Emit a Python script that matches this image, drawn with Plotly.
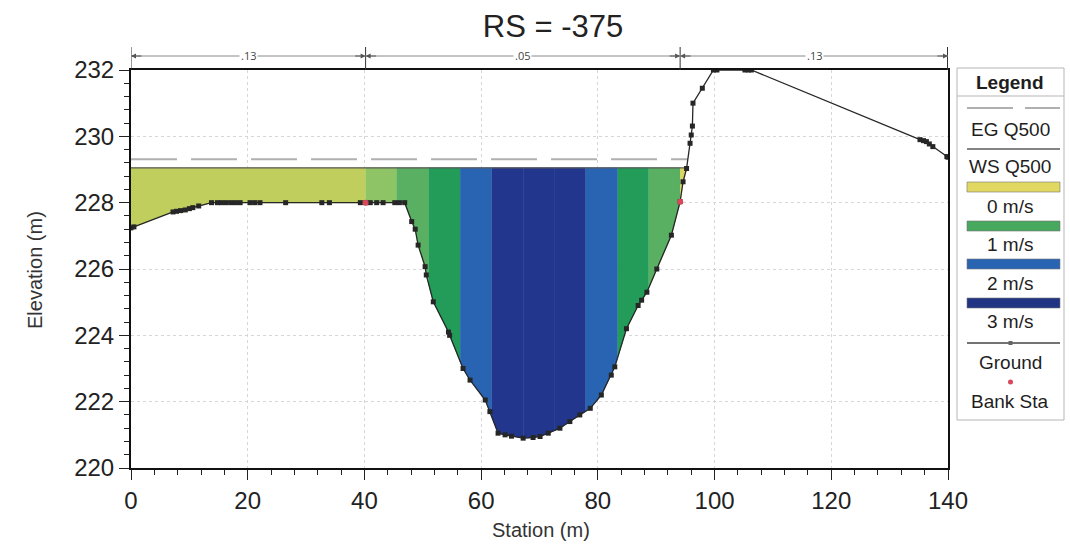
import numpy as np
import plotly.graph_objects as go

# ---- Cross-section data (RS = -375) ----
station = [0, 0.5, 7.2, 7.8, 8.5, 9.3, 10.0, 10.6, 11.6, 13.8, 14.8, 15.5, 16.3, 17.1,
           17.9, 18.7, 20.4, 21.2, 22.1, 26.5, 32.7, 34.0, 39.3, 40.2, 41.0, 42.1, 43.2,
           45.2, 46.0, 46.9, 48.1, 48.7, 49.2, 50.4, 50.6, 51.8, 54.4, 54.6, 56.9, 58.1,
           60.7, 61.5, 62.9, 64.1, 65.2, 67.2, 68.9, 70.1, 71.5, 73.5, 75.2, 76.9, 78.7,
           80.6, 82.3, 82.9, 84.9, 86.9, 87.5, 88.4, 90.1, 92.6, 94.1, 94.6, 95.2, 95.8,
           96.0, 96.2, 96.3, 97.9, 99.8, 100.4, 105.2, 105.8, 106.3, 135.2, 135.8, 136.3,
           136.8, 137.4, 139.8, 140.0]
elevation = [227.24, 227.27, 227.72, 227.74, 227.76, 227.78, 227.82, 227.85, 227.90, 228.0,
             228.0, 228.0, 228.0, 228.0, 228.0, 228.0, 228.0, 228.0, 228.0, 228.0, 228.0,
             228.0, 228.0, 228.0, 228.0, 228.0, 228.0, 228.0, 228.0, 228.0, 227.43, 227.20,
             226.72, 226.07, 225.82, 225.01, 224.10, 224.00, 223.00, 222.65, 222.05, 221.70,
             221.05, 221.00, 220.96, 220.90, 220.92, 220.95, 221.05, 221.20, 221.40, 221.60,
             221.80, 222.20, 222.80, 223.05, 224.20, 224.90, 225.06, 225.30, 226.00, 227.02,
             228.03, 228.63, 229.03, 229.79, 230.04, 230.31, 231.00, 231.45, 232.0, 232.0,
             232.0, 232.0, 232.0, 229.90, 229.87, 229.84, 229.77, 229.69, 229.39, 229.37]

bank_station = [40.2, 94.1]
bank_elevation = [228.0, 228.03]

ws_q500 = 229.05   # water surface
eg_q500 = 229.31   # energy grade

# Manning's n regions along the top
n_breaks = [0, 40.2, 94.1, 140]
n_labels = [".13", ".05", ".13"]

# Velocity distribution: slice edges (m) and mean velocity in each slice (m/s)
vel_edges = [0, 40.2, 45.5, 51.0, 56.4, 61.8, 67.2, 72.5, 77.9, 83.4, 88.7, 94.1]
velocity = [0.3, 0.6, 0.9, 1.2, 2.0, 2.8, 2.8, 2.8, 2.0, 1.2, 0.9, 0.05]

legend_speeds = [0, 1, 2, 3]

x_range = [0, 140]
y_range = [220, 232]

# velocity colour ramp
ramp_v = [0.0, 0.3, 0.6, 0.9, 1.2, 2.0, 2.8, 3.0]
ramp_rgb = [(224, 216, 96), (192, 206, 94), (142, 196, 102), (90, 176, 98),
            (34, 156, 88), (40, 100, 178), (33, 54, 140), (33, 52, 132)]


def vel_color(v):
    r, g, b = (np.interp(v, ramp_v, [c[i] for c in ramp_rgb]) for i in range(3))
    return f"rgb({int(r)},{int(g)},{int(b)})"


sta = np.array(station)
elev = np.array(elevation)


def right_crossing(level):
    # last point where the ground rises through a given level
    for i in range(len(sta) - 1, 0, -1):
        if elev[i - 1] <= level < elev[i] or elev[i - 1] < level <= elev[i]:
            return float(np.interp(level, [elev[i - 1], elev[i]], [sta[i - 1], sta[i]]))
    return float(sta[-1])


ws_end = right_crossing(ws_q500)
eg_end = right_crossing(eg_q500)

fig = go.Figure()

# water area coloured by velocity
edges = vel_edges + [ws_end]
for a, b, v in zip(edges[:-1], edges[1:], velocity):
    xs = [a] + [s for s in station if a < s < b] + [b]
    zs = np.minimum(np.interp(xs, sta, elev), ws_q500)
    col = vel_color(v)
    fig.add_trace(go.Scatter(
        x=xs + [b, a], y=list(zs) + [ws_q500, ws_q500],
        mode="lines", fill="toself", fillcolor=col,
        line=dict(width=0.6, color=col), hoverinfo="skip", showlegend=False))

# energy grade line
fig.add_trace(go.Scatter(x=[0, eg_end], y=[eg_q500, eg_q500], mode="lines",
                         line=dict(color="#b0b0b0", width=2, dash="46px,14px"),
                         showlegend=False, hoverinfo="skip"))
# water surface
fig.add_trace(go.Scatter(x=[0, ws_end], y=[ws_q500, ws_q500], mode="lines",
                         line=dict(color="#5a5a5a", width=1.2),
                         showlegend=False, hoverinfo="skip"))
# ground
fig.add_trace(go.Scatter(x=station, y=elevation, mode="lines+markers",
                         line=dict(color="#262626", width=1.3),
                         marker=dict(symbol="square", size=5, color="#262626"),
                         showlegend=False))
# bank stations
fig.add_trace(go.Scatter(x=bank_station, y=bank_elevation, mode="markers",
                         marker=dict(symbol="circle", size=6, color="#d8475a"),
                         showlegend=False))

# ---- layout helpers (pixel -> paper) ----
L, R, T, B = 131, 948, 70, 468


def pxx(p):
    return (p - L) / (R - L)


def pxy(p):
    return (B - p) / (B - T)


def data_to_paper_x(x):
    return (x - x_range[0]) / (x_range[1] - x_range[0])


shapes = []
annotations = []

# Manning's n dimension row
dim_y = pxy(56)
for x in n_breaks:
    shapes.append(dict(type="line", xref="x", yref="paper", x0=x, x1=x,
                       y0=1.0, y1=pxy(47), line=dict(color="#333", width=2 if x == 140 else 1)))
for a, b, lab in zip(n_breaks[:-1], n_breaks[1:], n_labels):
    shapes.append(dict(type="line", xref="x", yref="paper", x0=a, x1=b, y0=dim_y, y1=dim_y,
                       line=dict(color="#8a8a8a", width=1)))
    annotations.append(dict(x=data_to_paper_x((a + b) / 2), y=dim_y, xref="paper", yref="paper",
                            text=lab, showarrow=False, bgcolor="white", borderpad=1,
                            xanchor="center", yanchor="middle",
                            font=dict(size=11, color="#444")))
    for x, off in ((a, 12), (b, -12)):
        annotations.append(dict(x=data_to_paper_x(x), y=dim_y, xref="paper", yref="paper",
                                text="", showarrow=True, ax=off, ay=0, arrowhead=2,
                                arrowsize=1, arrowwidth=1, arrowcolor="#555"))

# legend box
font_family = "Arial, Liberation Sans, sans-serif"
lx0, lx1 = 957, 1064
bx0, bx1 = 967, 1060
cx = (lx0 + lx1) / 2
shapes.append(dict(type="rect", xref="paper", yref="paper", x0=pxx(lx0), x1=pxx(lx1),
                   y0=pxy(420), y1=pxy(68), line=dict(color="#b5b5b5", width=1),
                   fillcolor="white", layer="below"))
shapes.append(dict(type="line", xref="paper", yref="paper", x0=pxx(lx0), x1=pxx(lx1),
                   y0=pxy(96), y1=pxy(96), line=dict(color="#b5b5b5", width=1)))


def legend_text(txt, y, bold=False):
    annotations.append(dict(x=pxx(cx), y=pxy(y), xref="paper", yref="paper",
                            text=f"<b>{txt}</b>" if bold else txt, showarrow=False,
                            xanchor="center", yanchor="middle",
                            font=dict(size=19, color="#1e1e1e", family=font_family)))


legend_text("Legend", 82, bold=True)
shapes.append(dict(type="line", xref="paper", yref="paper", x0=pxx(bx0), x1=pxx(bx1),
                   y0=pxy(108), y1=pxy(108),
                   line=dict(color="#b0b0b0", width=2, dash="46px,12px")))
legend_text("EG Q500", 129)
shapes.append(dict(type="line", xref="paper", yref="paper", x0=pxx(bx0), x1=pxx(bx1),
                   y0=pxy(149), y1=pxy(149), line=dict(color="#5a5a5a", width=1.5)))
legend_text("WS Q500", 166)
bar_tops = [182, 221, 259, 298]
text_ys = [206, 244, 283, 321]
for v, top, ty in zip(legend_speeds, bar_tops, text_ys):
    shapes.append(dict(type="rect", xref="paper", yref="paper", x0=pxx(bx0), x1=pxx(bx1),
                       y0=pxy(top + 10), y1=pxy(top), fillcolor=vel_color(v),
                       line=dict(color="#777", width=0.6)))
    legend_text(f"{v} m/s", ty)
shapes.append(dict(type="line", xref="paper", yref="paper", x0=pxx(bx0), x1=pxx(bx1),
                   y0=pxy(343), y1=pxy(343), line=dict(color="#444", width=1.3)))
shapes.append(dict(type="rect", xref="paper", yref="paper", x0=pxx(cx - 2), x1=pxx(cx + 2),
                   y0=pxy(345), y1=pxy(341), fillcolor="#666", line=dict(width=0)))
legend_text("Ground", 362)
shapes.append(dict(type="circle", xref="paper", yref="paper", x0=pxx(cx - 2.5), x1=pxx(cx + 2.5),
                   y0=pxy(384.5), y1=pxy(379.5), fillcolor="#d8475a", line=dict(width=0)))
legend_text("Bank Sta", 401)

# axis titles
annotations.append(dict(x=pxx(541), y=pxy(543), xref="paper", yref="paper",
                        text="Station (m)", showarrow=False,
                        font=dict(size=20, color="#333", family=font_family)))
annotations.append(dict(x=pxx(22), y=pxy(270), xref="paper", yref="paper",
                        text="Elevation (m)", showarrow=False, textangle=-90,
                        font=dict(size=20, color="#333", family=font_family)))

axis_common = dict(
    showline=True, linewidth=2, linecolor="#111", mirror=True,
    ticks="outside", ticklen=10, tickwidth=1.3, tickcolor="#222",
    showgrid=True, gridcolor="#d6d6d6", griddash="dot", gridwidth=1,
    zeroline=False,
    tickfont=dict(size=24, color="#222", family=font_family),
)

fig.update_layout(
    width=1070, height=557,
    margin=dict(l=L, r=1070 - R, t=T, b=557 - B),
    paper_bgcolor="white", plot_bgcolor="white",
    title=dict(text="RS = -375", x=553 / 1070, y=1 - 26 / 557,
               xanchor="center", yanchor="middle",
               font=dict(size=31, color="#222", family=font_family)),
    xaxis=dict(range=x_range, dtick=20, tick0=0,
               minor=dict(dtick=4, ticklen=5, tickcolor="#222", showgrid=False),
               **axis_common),
    yaxis=dict(range=y_range, dtick=2, tick0=220,
               minor=dict(dtick=0.4, ticklen=5, tickcolor="#222", showgrid=False),
               **axis_common),
    shapes=shapes,
    annotations=annotations,
    showlegend=False,
)

fig.write_html("out.html")
